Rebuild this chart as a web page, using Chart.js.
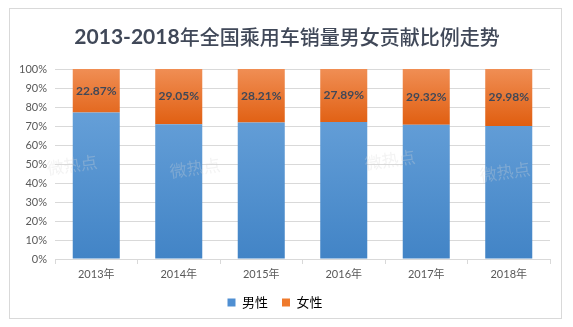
<!DOCTYPE html>
<html>
<head>
<meta charset="utf-8">
<script src="https://cdn.jsdelivr.net/npm/chart.js@4"></script>
<style>
    html, body { margin: 0; padding: 0; background: #fff; }
    #wrap { position: relative; width: 573px; height: 327px; }
    #frame { position: absolute; left: 9px; top: 8px; width: 553px; height: 311px; border: 1px solid #d9d9d9; box-sizing: border-box; }
    canvas { position: absolute; left: 0; top: 0; }
</style>
</head>
<body>
<div id="wrap">
    <div id="frame"></div>
    <canvas id="genderChart" width="573" height="327"></canvas>
</div>
<script>
const titleNum = '2013-2018';
const titleRest = '年全国乘用车销量男女贡献比例走势';
const years = ['2013年', '2014年', '2015年', '2016年', '2017年', '2018年'];
const female = [22.87, 29.05, 28.21, 27.89, 29.32, 29.98];
const male = [77.13, 70.95, 71.79, 72.11, 70.68, 70.02];
const seriesNames = ['男性', '女性'];

const fontFamily = 'Lato, "Noto Sans CJK SC", sans-serif';

// vertical gradient inside the chart area
function grad(ctx, top, bottom) {
    const chart = ctx.chart;
    const area = chart.chartArea;
    if (!area) return bottom;
    const g = chart.ctx.createLinearGradient(0, area.top, 0, area.bottom);
    g.addColorStop(0, top);
    g.addColorStop(1, bottom);
    return g;
}

function orangeGrad(ctx) {
    const chart = ctx.chart;
    const area = chart.chartArea;
    if (!area) return '#ec7424';
    const y = chart.scales.y;
    // orange part sits between ~70% and 100%
    const g = chart.ctx.createLinearGradient(0, y.getPixelForValue(100), 0, y.getPixelForValue(70));
    g.addColorStop(0, '#f08e54');
    g.addColorStop(1, '#e05e10');
    return g;
}

// title: bold digits, regular chinese
const mixedTitle = {
    id: 'mixedTitle',
    afterDraw(chart) {
        const c = chart.ctx;
        c.save();
        c.fillStyle = '#404858';
        c.textBaseline = 'middle';
        const f1 = 'bold 21px Lato, sans-serif';
        const f2 = '500 20px "Noto Sans CJK SC", sans-serif';
        c.font = f1;
        const w1 = c.measureText(titleNum).width;
        c.font = f2;
        const w2 = c.measureText(titleRest).width;
        let x = 287 - (w1 + w2) / 2;
        c.textAlign = 'left';
        c.font = f1;
        c.fillText(titleNum, x, 37);
        c.font = f2;
        c.fillText(titleRest, x + w1, 37);
        c.restore();
    }
};

// labels on the female segment
const segmentLabels = {
    id: 'segmentLabels',
    afterDatasetsDraw(chart) {
        const c = chart.ctx;
        const meta = chart.getDatasetMeta(1);
        c.save();
        c.font = 'bold 12px ' + fontFamily;
        c.fillStyle = '#404858';
        c.textAlign = 'center';
        c.textBaseline = 'middle';
        meta.data.forEach((bar, i) => {
            c.fillText(female[i].toFixed(2) + '%', bar.x, (bar.y + bar.base) / 2);
        });
        c.restore();
    }
};

// faint watermark text
const watermark = {
    id: 'watermark',
    afterDatasetsDraw(chart) {
        const c = chart.ctx;
        const spots = [[72, 165], [195, 168], [390, 160], [505, 172]];
        c.save();
        c.font = '17px "Noto Sans CJK SC", sans-serif';
        c.fillStyle = 'rgba(215,215,215,0.3)';
        c.textAlign = 'center';
        c.textBaseline = 'middle';
        spots.forEach(([x, y]) => {
            c.save();
            c.translate(x, y);
            c.rotate(-0.14);
            c.fillText('微热点', 0, 0);
            c.restore();
        });
        c.restore();
    }
};

new Chart(document.getElementById('genderChart'), {
    type: 'bar',
    data: {
        labels: years,
        datasets: [{
            label: seriesNames[0],
            data: male,
            backgroundColor: ctx => grad(ctx, '#6fa7dd', '#4284c6'),
            borderWidth: 0,
            barPercentage: 0.57,
            categoryPercentage: 1
        }, {
            label: seriesNames[1],
            data: female,
            backgroundColor: orangeGrad,
            borderWidth: 0,
            barPercentage: 0.57,
            categoryPercentage: 1
        }]
    },
    options: {
        responsive: false,
        animation: false,
        layout: { padding: { left: 0, right: 23, top: 69, bottom: 8 } },
        scales: {
            x: {
                stacked: true,
                grid: { drawOnChartArea: false, drawTicks: true, tickLength: 5, color: '#d9d9d9' },
                border: { color: '#d9d9d9' },
                ticks: { color: '#595959', font: { size: 11, family: fontFamily }, padding: 4 },
                afterFit: s => { s.height = 23; }
            },
            y: {
                stacked: true,
                min: 0,
                max: 100,
                ticks: { stepSize: 10, callback: v => v + '%', color: '#595959', font: { size: 11, family: fontFamily }, padding: 8 },
                grid: { color: '#d9d9d9', drawTicks: false },
                border: { display: false },
                afterFit: s => { s.width = 55; }
            }
        },
        plugins: {
            title: { display: false },
            legend: {
                position: 'bottom',
                labels: {
                    color: '#404858',
                    font: { size: 13, family: fontFamily },
                    boxWidth: 8,
                    boxHeight: 8,
                    padding: 14,
                    generateLabels: chart => seriesNames.map((n, i) => ({
                        text: n,
                        fillStyle: i === 0 ? '#4f8fd2' : '#ef7a2c',
                        strokeStyle: 'transparent',
                        lineWidth: 0,
                        datasetIndex: i
                    }))
                }
            },
            tooltip: { enabled: false }
        }
    },
    plugins: [segmentLabels, watermark, mixedTitle]
});
</script>
</body>
</html>
